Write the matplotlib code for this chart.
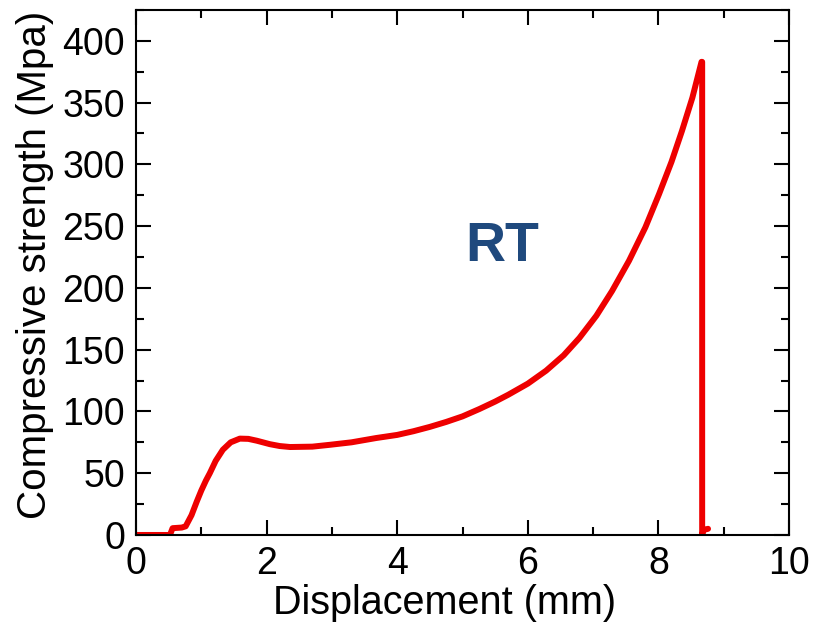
import matplotlib.pyplot as plt
from matplotlib.ticker import MultipleLocator

plt.rcParams['font.family'] = ['Liberation Sans', 'DejaVu Sans']

# curve
displacement = [0.0, 0.30, 0.52, 0.56, 0.70, 0.76, 0.85, 0.93, 1.00, 1.07, 1.13,
                1.22, 1.33, 1.45, 1.59, 1.72, 1.85, 2.05, 2.20, 2.36, 2.70,
                2.97, 3.30, 3.68, 4.00, 4.25, 4.50, 4.75, 5.00, 5.26, 5.50,
                5.70, 6.00, 6.28, 6.55, 6.79, 7.05, 7.29, 7.55, 7.80, 8.01,
                8.20, 8.36, 8.52, 8.66, 8.67, 8.67, 8.69, 8.76]
strength = [0.0, 0.0, 0.0, 5.5, 6.0, 7.0, 16.0, 27.0, 36.0, 44.0, 50.0,
            60.0, 69.0, 75.0, 78.0, 77.8, 76.3, 73.5, 72.0, 71.2, 71.5,
            73.0, 75.0, 78.5, 81.0, 84.0, 87.5, 91.5, 96.0, 102.0, 108.0,
            113.5, 122.5, 133.0, 145.5, 159.5, 177.5, 197.5, 222.0, 249.0, 276.0,
            302.0, 327.0, 354.0, 383.0, 383.0, 0.0, 4.0, 5.0]

x_ticks = [0, 2, 4, 6, 8, 10]
y_ticks = [0, 50, 100, 150, 200, 250, 300, 350, 400]

fig = plt.figure(figsize=(8.13, 6.23), dpi=100)
ax = fig.add_axes([0.1673, 0.1413, 0.8032, 0.8427])

ax.plot(displacement, strength, color='#ee0000', linewidth=4.3,
        solid_joinstyle='round', solid_capstyle='round')

ax.set_xlim(0, 10)
ax.set_ylim(0, 425)
ax.set_xticks(x_ticks)
ax.set_yticks(y_ticks)
ax.xaxis.set_minor_locator(MultipleLocator(1))
ax.yaxis.set_minor_locator(MultipleLocator(25))
ax.tick_params(which='both', direction='in', top=True, right=True,
               width=1.5, labelsize=27)
ax.tick_params(axis='x', pad=8)
ax.tick_params(axis='y', pad=8)
ax.tick_params(which='major', length=11)
ax.tick_params(which='minor', length=6)
for s in ax.spines.values():
    s.set_linewidth(1.5)

ax.set_xlabel('Displacement (mm)', fontsize=28.5)
ax.set_ylabel('Compressive strength (Mpa)', fontsize=29)
ax.xaxis.set_label_coords(0.473, -0.093)
ax.yaxis.set_label_coords(-0.126, 0.515)

ax.text(5.6, 233, 'RT', fontsize=40, fontweight='bold', color='#1f497d',
        ha='center', va='center')

fig.savefig('out.png', dpi=100)
